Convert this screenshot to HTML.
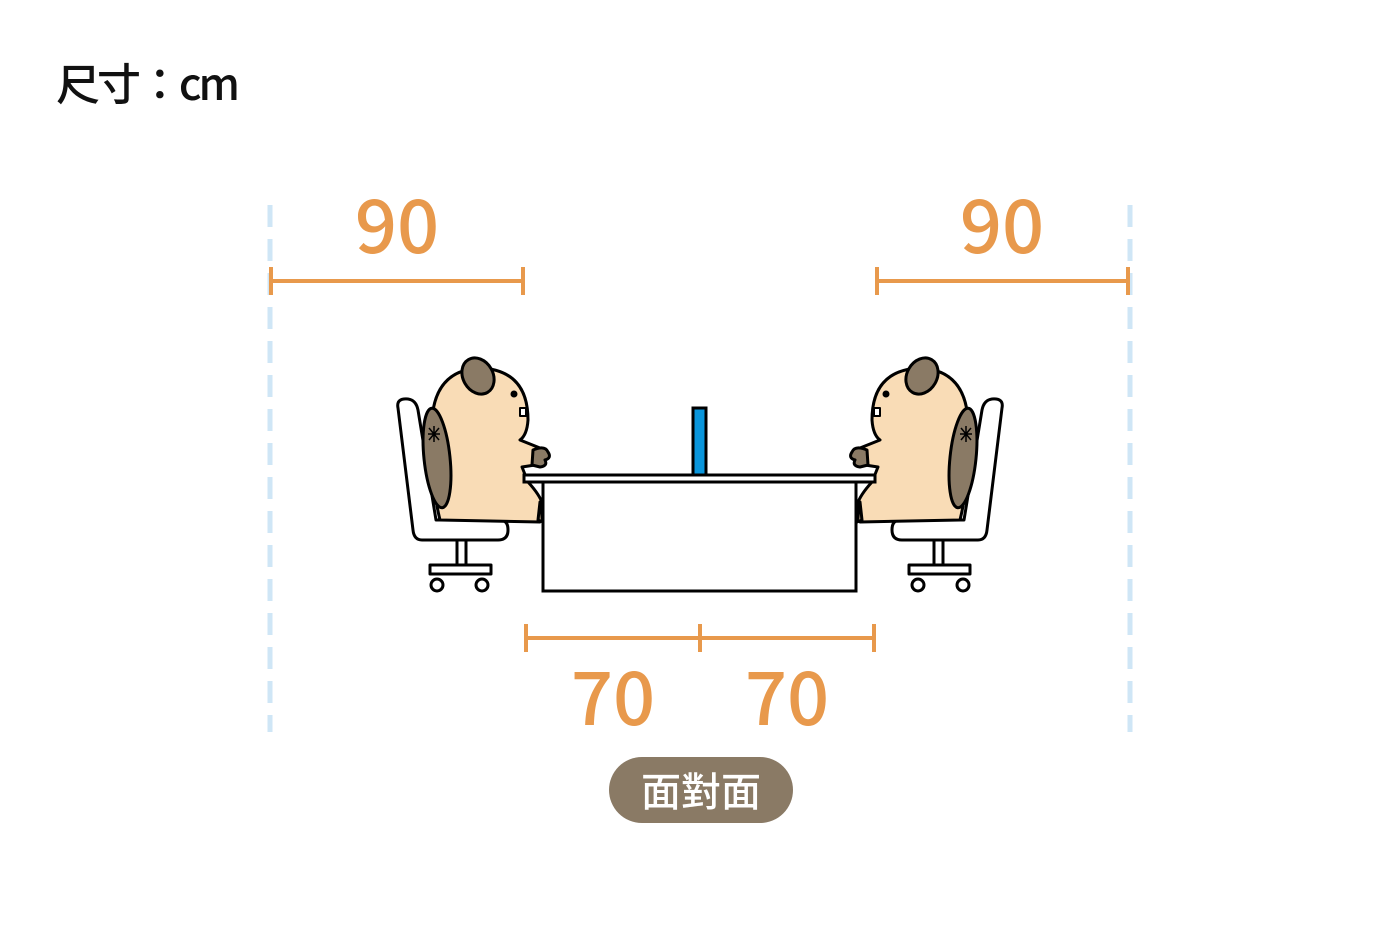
<!DOCTYPE html>
<html><head><meta charset="utf-8"><style>
html,body{margin:0;padding:0;background:#fff;}
svg{display:block}
</style></head><body>
<svg width="1400" height="933" viewBox="0 0 1400 933" xmlns="http://www.w3.org/2000/svg">
<text x="56" y="100" textLength="184" lengthAdjust="spacing" font-family="Noto Sans CJK TC, sans-serif" font-size="44" font-weight="500" fill="#111">尺寸：cm</text>
<g stroke="#cfe6f6" stroke-width="5" stroke-dasharray="22 12">
<line x1="270" y1="205" x2="270" y2="732"/><line x1="1130" y1="205" x2="1130" y2="732"/></g>
<g stroke="#e8994c" stroke-width="4" fill="none">
<line x1="271" y1="281" x2="523" y2="281"/><line x1="271" y1="267" x2="271" y2="295"/><line x1="523" y1="267" x2="523" y2="295"/>
<line x1="877" y1="281" x2="1128" y2="281"/><line x1="877" y1="267" x2="877" y2="295"/><line x1="1128" y1="267" x2="1128" y2="295"/>
<line x1="526" y1="638" x2="874" y2="638"/><line x1="526" y1="624" x2="526" y2="652"/><line x1="700" y1="624" x2="700" y2="652"/><line x1="874" y1="624" x2="874" y2="652"/>
</g>
<g font-family="Noto Sans CJK TC, sans-serif" font-size="74" font-weight="500" fill="#e8994c" text-anchor="middle">
<text x="397" y="253">90</text><text x="1002" y="253">90</text>
<text x="613" y="725">70</text><text x="787" y="725">70</text></g>
<rect x="609" y="757" width="184" height="66" rx="33" fill="#8a7a65"/>
<text x="701" y="806" font-family="Noto Sans CJK TC, sans-serif" font-size="40" font-weight="500" fill="#fff" text-anchor="middle">面對面</text>
<defs>
<g id="bv" stroke="#000" stroke-width="3" stroke-linejoin="round">
<path d="M398 408 Q396 398 408 399 Q416 400 418 410 L436 520 L500 520 Q508 520 508 530 Q508 540 498 540 L422 540 Q414 540 413 530 Z" fill="#fff"/>
<rect x="457" y="540" width="9" height="25" fill="#fff"/>
<rect x="430" y="565" width="61" height="9" fill="#fff"/>
<circle cx="437" cy="585" r="6" fill="#fff"/><circle cx="482" cy="585" r="6" fill="#fff"/>
<path d="M440 520 Q428 470 432 420 Q435 370 480 368 Q528 370 528 420 Q527 435 520 440 L540 448 L535 465 L522 467 L528 482 Q540 495 543 505 L540 522 Z" fill="#f9dcb6"/>
<ellipse cx="437" cy="458" rx="13" ry="50" transform="rotate(-6 437 458)" fill="#8a7a65"/>
<ellipse cx="478" cy="376" rx="15" ry="19" transform="rotate(-30 478 376)" fill="#8a7a65"/>
<path d="M533 450 Q545 445 548 452 Q552 458 545 460 Q548 466 540 467 L532 465 Z" fill="#8a7a65"/>
<path d="M540 502 L543 522 L538 520 Z" fill="#8a7a65"/>
<circle cx="514" cy="394" r="2" fill="#000"/>
<rect x="520" y="408" width="6" height="8" fill="#fff" stroke-width="2"/>
<path d="M429 428 l10 12 M439 428 l-10 12 M434 426 v16 M428 434 h12" stroke-width="1.5" fill="none"/>
</g>
</defs>
<use href="#bv"/>
<use href="#bv" transform="translate(1400 0) scale(-1 1)"/>
<rect x="524" y="475" width="351" height="7" fill="#fff" stroke="#000" stroke-width="3"/>
<rect x="543" y="482" width="313" height="109" fill="#fff" stroke="#000" stroke-width="3"/>
<rect x="693" y="408" width="13" height="67" fill="#0a96dc" stroke="#000" stroke-width="3"/>
</svg>
</body></html>
